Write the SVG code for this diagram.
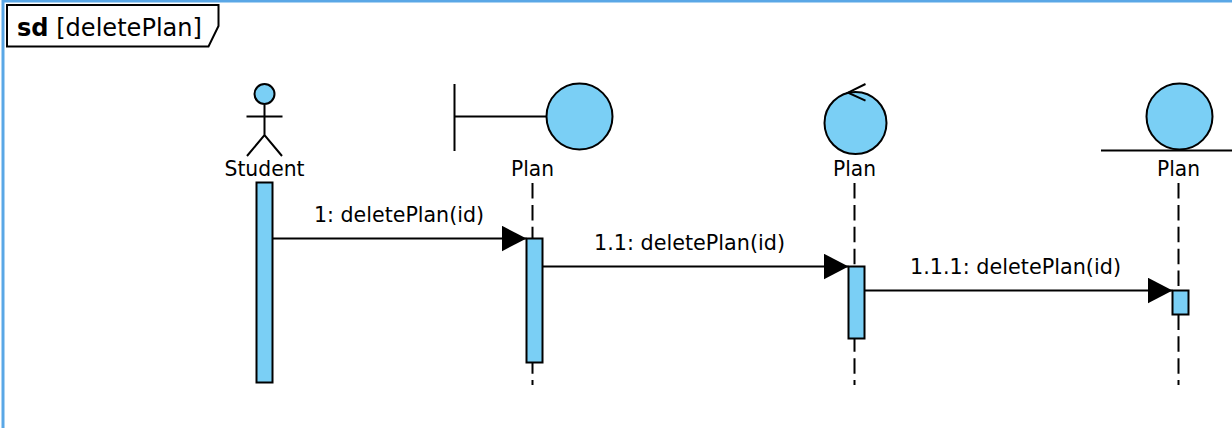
<svg xmlns="http://www.w3.org/2000/svg" width="1232" height="428" viewBox="0 0 1232 428">
<style>
.t{font-family:"DejaVu Sans",sans-serif;font-size:21.500px;fill:#000}
.c{text-anchor:middle}
.s{fill:none;stroke:#000;stroke-width:2}
.b{fill:#7acff5;stroke:#000;stroke-width:2}
.l{fill:none;stroke:#000;stroke-width:2;stroke-dasharray:15.500 6.400}
</style>
<defs>
<marker id="arrow" markerUnits="userSpaceOnUse" markerWidth="26" markerHeight="26" refX="25" refY="13" orient="auto"><polygon points="0,0 25,13 0,26" fill="#000"/></marker>
</defs>
<rect width="1232" height="428" fill="#fff"/>
<path d="M3 428V1H1232" fill="none" stroke="#5aa7e6" stroke-width="3"/>
<g id="frame">
<path d="M7 46.500V5H218.500V26L208.500 46.500Z" fill="#fff" stroke="#000" stroke-width="2"/>
<text class="t" x="17" y="36" style="font-size:25px" textLength="185" lengthAdjust="spacingAndGlyphs"><tspan font-weight="bold">sd</tspan> [deletePlan]</text>
</g>
<g id="student">
<circle class="b" cx="264.500" cy="94" r="10"/>
<path class="s" d="M264.500 105V135M246.500 116.500H282.500M247 156L264.500 135L282 156"/>
<text class="t c" x="264.500" y="176" textLength="80" lengthAdjust="spacingAndGlyphs">Student</text>
<rect class="b" x="256.500" y="182.500" width="16" height="200"/>
</g>
<g id="boundary-plan">
<path class="s" d="M454.500 84V151M454.500 116.500H547"/>
<circle class="b" cx="579.500" cy="116.500" r="33"/>
<text class="t c" x="532.500" y="176" textLength="43" lengthAdjust="spacingAndGlyphs">Plan</text>
<line class="l" x1="532.500" y1="183" x2="532.500" y2="385"/>
<rect class="b" x="526.500" y="238.500" width="16" height="124"/>
</g>
<g id="control-plan">
<circle class="b" cx="855.500" cy="123" r="31"/>
<path class="s" d="M865.500 84L848 92.700L865.500 100.700"/>
<text class="t c" x="854.500" y="176" textLength="43" lengthAdjust="spacingAndGlyphs">Plan</text>
<line class="l" x1="854.500" y1="183" x2="854.500" y2="385"/>
<rect class="b" x="848.500" y="266.500" width="16" height="72"/>
</g>
<g id="entity-plan">
<circle class="b" cx="1179.500" cy="116.500" r="33"/>
<path class="s" d="M1101 150.500H1232"/>
<text class="t c" x="1178.500" y="176" textLength="43" lengthAdjust="spacingAndGlyphs">Plan</text>
<line class="l" x1="1178.500" y1="183" x2="1178.500" y2="385"/>
<rect class="b" x="1172.500" y="290.500" width="16" height="24"/>
</g>
<g id="connectors">
<line class="s" x1="272.500" y1="238.500" x2="526.500" y2="238.500" marker-end="url(#arrow)"/>
<text class="t" x="314" y="222" textLength="170" lengthAdjust="spacingAndGlyphs">1: deletePlan(id)</text>
<line class="s" x1="542.500" y1="266.500" x2="848.500" y2="266.500" marker-end="url(#arrow)"/>
<text class="t" x="594" y="250" textLength="191" lengthAdjust="spacingAndGlyphs">1.1: deletePlan(id)</text>
<line class="s" x1="864.500" y1="290.500" x2="1172.500" y2="290.500" marker-end="url(#arrow)"/>
<text class="t" x="910" y="274" textLength="211" lengthAdjust="spacingAndGlyphs">1.1.1: deletePlan(id)</text>
</g>
</svg>
